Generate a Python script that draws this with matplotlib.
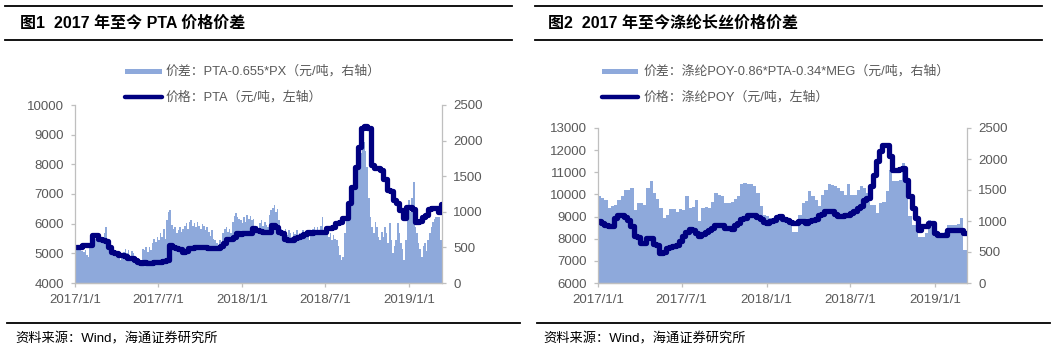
import matplotlib
matplotlib.use('Agg')
import matplotlib.pyplot as plt
from matplotlib.lines import Line2D
from matplotlib.patches import Rectangle
import pandas as pd

plt.rcParams['font.family'] = ['Liberation Sans', 'Noto Sans CJK SC']

# ---------------- data ----------------
# Figure 1: PTA price (weekly, yuan/t, left axis)
pta_price = [5225, 5225, 5280, 5280, 5280, 5620, 5620, 5500, 5450, 5400,
             5200, 5060, 5000, 4950, 4940, 4900, 4850, 4830, 4780, 4700,
             4660, 4720, 4680, 4660, 4700, 4720, 4720, 4730, 4760, 5280,
             5200, 5170, 5150, 5060, 5080, 5170, 5170, 5220, 5220, 5200,
             5220, 5180, 5170, 5170, 5180, 5250, 5340, 5500, 5480, 5550,
             5670, 5660, 5670, 5680, 5700, 5840, 5800, 5750, 5730, 5720,
             5730, 5960, 5900, 5730, 5700, 5500, 5450, 5450, 5520, 5560,
             5600, 5650, 5730, 5700, 5730, 5720, 5730, 5720, 5840, 5850,
             5900, 6010, 6050, 6180, 6200, 6690, 7250, 7920, 8600, 9220,
             9300, 9220, 7980, 7870, 7870, 7810, 7500, 7140, 7100, 6800,
             6700, 6460, 6180, 6550, 6570, 6500, 6070, 6100, 6240, 6300,
             6500, 6520, 6520, 6400, 6650]
# Figure 1: PTA-0.655*PX spread (twice weekly, right axis)
pta_spread = [510, 500, 490, 470, 450, 430, 460, 400, 370, 560,
              580, 650, 620, 640, 600, 650, 610, 640, 700, 790,
              560, 500, 460, 420, 440, 400, 360, 420, 320, 380,
              440, 480, 420, 470, 380, 450, 420, 370, 340, 300,
              280, 330, 480, 460, 510, 440, 500, 470, 560, 620,
              580, 650, 600, 700, 640, 760, 620, 880, 1000, 1025,
              820, 760, 790, 700, 740, 780, 720, 760, 800, 840,
              760, 860, 885, 800, 840, 790, 860, 800, 760, 830,
              800, 750, 790, 720, 660, 740, 620, 600, 560, 520,
              600, 540, 700, 760, 790, 720, 760, 700, 860, 940,
              980, 920, 900, 880, 840, 920, 860, 955, 900, 940,
              880, 900, 790, 800, 760, 840, 885, 800, 860, 820,
              790, 960, 1025, 1060, 1095, 1000, 1040, 880, 760, 700,
              720, 760, 680, 740, 700, 650, 720, 690, 745, 660,
              700, 620, 745, 690, 640, 700, 600, 720, 760, 790,
              740, 780, 720, 800, 930, 720, 700, 745, 650, 700,
              600, 680, 620, 600, 520, 400, 320, 360, 700, 885,
              950, 1000, 1165, 1100, 1300, 1490, 1350, 1650, 1820, 1910,
              1985, 1850, 1630, 1200, 930, 790, 700, 850, 790, 650,
              600, 720, 650, 780, 700, 560, 840, 600, 420, 520,
              600, 840, 700, 560, 480, 320, 600, 900, 1165, 1000,
              1200, 1420, 790, 700, 560, 480, 370, 520, 560, 450,
              600, 700, 790, 850, 900, 930, 930, 920, 600]

# Figure 2: polyester POY price (weekly, left axis)
poy_price = [8800, 8700, 8600, 8580, 8580, 8950, 9090, 9090, 9000, 8860,
             8560, 8110, 8100, 7800, 7800, 8030, 8030, 7750, 7730, 7360,
             7400, 7600, 7620, 7660, 7700, 7880, 8110, 8300, 8450, 8400,
             8250, 8110, 8200, 8300, 8400, 8500, 8630, 8630, 8600, 8480,
             8480, 8450, 8630, 8700, 8880, 8940, 9050, 9090, 9090, 8980,
             8900, 8750, 8710, 8800, 8860, 9000, 9040, 8900, 8860, 8750,
             8710, 8710, 8810, 8780, 8710, 8800, 8860, 8900, 9090, 9100,
             9240, 9240, 9240, 9100, 9040, 9040, 9090, 9090, 9160, 9250,
             9390, 9500, 9770, 9850, 10370, 10890, 11500, 11950, 12250, 12250,
             11720, 11120, 11120, 11150, 11200, 10670, 9920, 9390, 8940, 8410,
             8560, 8560, 8710, 8710, 8260, 8180, 8180, 8180, 8410, 8410,
             8410, 8410, 8380, 8260]
# Figure 2: POY-0.86*PTA-0.34*MEG spread (weekly, right axis)
poy_spread = [1400, 1370, 1340, 1210, 1240, 1260, 1340, 1400, 1500, 1500,
              1530, 1180, 1290, 1290, 1260, 1530, 1640, 1450, 1350, 1210,
              1050, 1100, 1200, 1200, 1150, 1200, 1180, 1400, 1210, 1220,
              1340, 995, 1210, 1220, 1210, 1300, 1450, 1420, 1400, 1290,
              1290, 1300, 1350, 1400, 1590, 1610, 1590, 1590, 1560, 1450,
              1240, 1100, 1080, 1050, 1050, 1050, 1070, 1020, 1040, 1020,
              830, 830, 1100, 1290, 1330, 1480, 1400, 1340, 1240, 1420,
              1500, 1590, 1580, 1560, 1530, 1480, 1420, 1590, 1420, 1420,
              1500, 1560, 1540, 1450, 1260, 1260, 1130, 1290, 1300, 1480,
              1830, 1640, 1640, 1660, 1935, 1610, 1075, 940, 940, 750,
              750, 800, 1020, 1000, 820, 805, 805, 820, 940, 940,
              940, 950, 1050, 540]

date_ticks = ['2017-01-01', '2017-07-01', '2018-01-01', '2018-07-01', '2019-01-01']
date_tick_labels = ['2017/1/1', '2017/7/1', '2018/1/1', '2018/7/1', '2019/1/1']

titles = ['图1  2017 年至今 PTA 价格价差', '图2  2017 年至今涤纶长丝价格价差']
legend_spread = ['价差：PTA-0.655*PX（元/吨，右轴）',
                 '价差：涤纶POY-0.86*PTA-0.34*MEG（元/吨，右轴）']
legend_price = ['价格：PTA（元/吨，左轴）', '价格：涤纶POY（元/吨，左轴）']
source_text = '资料来源：Wind，海通证券研究所'

# ---------------- style ----------------
AREA = '#8EA9DB'
LINE = '#000080'
GRID = '#BFBFBF'
TXT = '#595959'
W, H = 1057, 351

fig = plt.figure(figsize=(W / 100, H / 100), dpi=100)


def fx(px):
    return px / W


def fy(py):
    return 1 - py / H


def style_axes(ax, ax2, ylim, yticks, y2ticks, xend):
    ax.set_xlim(pd.Timestamp('2017-01-01'), pd.Timestamp(xend))
    ax.set_ylim(*ylim)
    ax.set_yticks(yticks)
    ax2.set_ylim(0, 2500)
    ax2.set_yticks(y2ticks)
    ax.set_xticks([pd.Timestamp(d) for d in date_ticks])
    ax.set_xticklabels(date_tick_labels)
    for a in (ax, ax2):
        a.spines['top'].set_visible(False)
        for s in ('left', 'right', 'bottom'):
            a.spines[s].set_color(GRID)
            a.spines[s].set_linewidth(0.9)
        a.tick_params(axis='both', colors=GRID, labelcolor=TXT,
                      labelsize=9.5, length=3, width=0.9, pad=5)
    ax.spines['right'].set_visible(False)
    ax2.spines['left'].set_visible(False)
    ax.set_zorder(ax2.get_zorder() + 1)
    ax.patch.set_visible(False)


# ---------- panel 1 ----------
ax1 = fig.add_axes([fx(75), fy(283), fx(367), (283 - 105) / H])
ax1b = ax1.twinx()
sd1 = pd.date_range('2017-01-01', periods=len(pta_spread) + 1, freq='84h')
ax1b.fill_between(sd1, 0, pta_spread + [pta_spread[-1]], step='post',
                  color=AREA, lw=0, antialiased=False)
pd1 = pd.date_range('2017-01-03', periods=len(pta_price) + 1, freq='7D')
ax1.plot(pd1, pta_price + [pta_price[-1]], drawstyle='steps-post',
         color=LINE, lw=3.8, solid_joinstyle='round', solid_capstyle='round')
style_axes(ax1, ax1b, (4000, 10000), range(4000, 10001, 1000),
           range(0, 2501, 500), '2019-03-14')

# ---------- panel 2 ----------
ax2 = fig.add_axes([fx(598), fy(283), fx(369), (283 - 128) / H])
ax2b = ax2.twinx()
bd2 = pd.date_range('2017-01-01', periods=len(poy_spread) + 1, freq='7D')
ax2b.fill_between(bd2, 0, poy_spread + [poy_spread[-1]], step='post',
                  color=AREA, lw=0, antialiased=False)
pd2 = pd.date_range('2017-01-01', periods=len(poy_price) + 1, freq='7D')
ax2.plot(pd2, poy_price + [poy_price[-1]], drawstyle='steps-post',
         color=LINE, lw=3.8, solid_joinstyle='round', solid_capstyle='round')
style_axes(ax2, ax2b, (6000, 13000), range(6000, 13001, 1000),
           range(0, 2501, 500), '2019-03-11')

# ---------- decorations ----------
panels = [dict(x0=5, x1=512, tx=20, lp=(125, 162), lt=166),
          dict(x0=535, x1=1042, tx=548, lp=(602, 638), lt=643)]
for k, p in enumerate(panels):
    for yy in (6, 40):
        fig.add_artist(Line2D([fx(p['x0']), fx(p['x1'])], [fy(yy), fy(yy)],
                              color='black', lw=1.3))
    fig.add_artist(Line2D([fx(p['x0'] + 2), fx(p['x1'] + 8)], [fy(323), fy(323)],
                          color='black', lw=1.3))
    fig.text(fx(p['tx']), fy(23), titles[k], fontsize=11.5, fontweight='bold',
             color='black', va='center', ha='left')
    # legend
    fig.add_artist(Rectangle((fx(p['lp'][0]), fy(73.5)),
                             fx(p['lp'][1] - p['lp'][0]), 5 / H,
                             color=AREA, lw=0))
    fig.text(fx(p['lt']), fy(71), legend_spread[k], fontsize=9.3,
             color=TXT, va='center', ha='left')
    fig.add_artist(Line2D([fx(p['lp'][0]), fx(p['lp'][1])], [fy(97), fy(97)],
                          color=LINE, lw=3.2, solid_capstyle='round'))
    fig.text(fx(p['lt']), fy(97), legend_price[k], fontsize=9.3,
             color=TXT, va='center', ha='left')
    fig.text(fx(p['tx'] - 5), fy(339), source_text, fontsize=9.5,
             color='black', va='center', ha='left')

fig.savefig('out.png', dpi=100)
